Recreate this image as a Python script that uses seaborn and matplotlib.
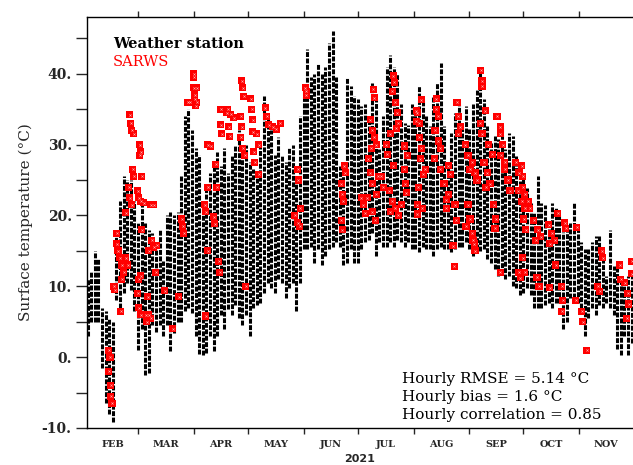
import numpy as np
import pandas as pd
import matplotlib
matplotlib.use("Agg")
import matplotlib.pyplot as plt
import seaborn as sns

# ==========================================
# Data
# ==========================================

# weather station: daily envelope, every 2nd day from 2021-02-01
station_high = [
    11, 12, 15, 14, 7, 6.5, 5.5, 5, 17, 22,
    25.5, 25, 25, 22, 19, 21.5, 19, 18, 17.5, 15.5,
    18, 13.5, 20, 20.5, 20, 20.5, 25.5, 34, 35, 32,
    29.5, 28.5, 22, 24, 26, 27.5, 29, 27, 29.5, 26,
    28.5, 30, 32, 30, 30, 27.5, 26.5, 25.5, 30, 36.8,
    34, 32, 28.5, 31, 28.5, 27.5, 29.5, 30, 25.5, 34,
    38.7, 43.5, 39.6, 40, 41.5, 40, 41, 44.3, 46, 39.6,
    27, 27, 39.6, 38.2, 36.8, 36.5, 35.4, 35.7, 34, 38.7,
    36.5, 29.4, 34, 41, 42.7, 41, 40, 35.7, 33, 32.8,
    35.7, 35, 38.2, 36.4, 34, 32.6, 36.8, 38.7, 41.5, 32.6,
    27.4, 31.6, 34.4, 35.7, 32.6, 35.4, 32.2, 35.7, 37.8, 40.6,
    36.5, 32.6, 30.2, 31.2, 30.8, 32.6, 29.4, 31.6, 31.2, 28.4,
    25.6, 26, 23.8, 21.8, 20.4, 25.6, 21.8, 21.5, 18.1, 21.8,
    21, 20, 17.6, 18, 19, 21.8, 18, 16.2, 15.3, 15.3,
    16.2, 17.1, 17.1, 14.3, 11.5, 18, 12.9, 13.3, 11.1, 10.1,
    11.5, 11.5,
]
station_low = [
    3, 5, 5, 5, -1.5, -6.5, -8, -9.2, 8, 7,
    9, 10.5, 9.5, 6.5, 1, 4, -2.5, -2.3, 4.5, 3.5,
    4.5, 3, 4.5, 0.8, 3.4, 5, 5, 6.5, 7, 6.2,
    3, 0.5, 0.3, 0.6, 3, 0.8, 3, 6, 4, 6.8,
    5.9, 7.3, 5.5, 4.5, 5.9, 3, 7, 7.3, 7.7, 9,
    10.5, 9.7, 9, 11, 10.5, 8.3, 9.7, 10.5, 6.5, 10.5,
    15.3, 15.3, 15.6, 13.3, 15.3, 13, 14.3, 15.3, 15.6, 16.2,
    15.6, 13, 13.3, 15.3, 13.3, 13.3, 15.3, 16.2, 16.6, 17.5,
    14.3, 16.2, 15.6, 15.6, 16.2, 15.6, 16.6, 16.2, 15.6, 16.2,
    15.3, 15.3, 14.8, 15.6, 15.3, 15.3, 14.3, 15.3, 15.6, 15.3,
    15.3, 14.8, 15.3, 15.6, 15.6, 16.2, 15.3, 14.3, 15.3, 15,
    15.3, 13.9, 13.3, 12.5, 11.5, 11.8, 11, 11.5, 10.1, 9.7,
    8.7, 9, 9.7, 8.7, 6.9, 6.9, 6.9, 7.3, 7.7, 6.9,
    7.7, 7.7, 4, 4.9, 8.3, 8.3, 7.7, 6.9, 3, 5.5,
    6.9, 5.9, 7.3, 6.9, 7.7, 6.9, 5.9, 1.2, 0.3, 3,
    0.3, 2,
]
station_dates = pd.date_range("2021-02-01", periods=len(station_high), freq="2D")

# SARWS: days since 2021-02-01 and temperature
sarws_day = [
    11.9, 11.9, 13.0, 13.0, 13.6, 12.5, 14.7, 15.2, 18.5, 16.3,
    16.3, 16.9, 18.0, 19.1, 20.2, 21.3, 22.4, 19.1, 21.3, 23.0,
    23.5, 24.6, 25.2, 25.7, 23.5, 24.1, 24.6, 25.7, 28.0, 28.5,
    29.6, 29.1, 29.6, 29.1, 30.2, 31.3, 35.2, 36.8, 30.2, 29.6,
    28.5, 28.0, 28.5, 29.6, 32.4, 32.9, 33.5, 35.2, 34.1, 35.7,
    36.8, 38.5, 34.1, 37.9, 42.9, 47.3, 50.7, 52.3, 52.9, 53.4,
    55.6, 56.8, 59.0, 59.0, 59.0, 59.5, 59.5, 60.1, 60.6, 60.6,
    66.7, 68.4, 65.1, 65.6, 66.7, 70.0, 70.6, 71.2, 71.7, 65.6,
    66.7, 72.8, 73.4, 73.9, 74.5, 78.4, 78.9, 77.8, 79.5, 81.1,
    73.9, 77.2, 85.0, 85.5, 85.0, 86.1, 87.2, 85.5, 86.1, 86.7,
    90.5, 91.1, 91.6, 91.6, 92.2, 92.7, 93.9, 95.0, 95.0, 98.8,
    99.4, 100.5, 102.7, 104.9, 107.1, 87.8, 116.6, 117.1, 114.9, 116.6,
    117.7, 118.2, 121.0, 121.5, 121.5,
    142.6, 143.1, 140.9, 141.5, 142.0, 140.9, 141.5, 152.0, 153.1, 154.2,
    158.6, 159.2, 157.0, 158.1, 159.2, 157.5, 160.3, 155.9, 157.0, 158.1,
    160.3, 161.4, 155.3, 163.1, 164.2, 158.1, 159.7, 169.7, 170.3, 169.2,
    170.8, 171.9, 172.5, 171.4, 168.1, 165.9, 166.4, 169.7, 167.5, 169.2,
    170.8, 172.5, 174.1, 168.1, 175.8, 177.5, 175.8, 176.4, 176.9, 182.5,
    182.5,
    183.0, 184.1, 185.2, 184.1, 185.2, 184.7, 187.4, 186.3, 183.6, 183.0,
    183.0, 185.8, 193.5, 193.5, 194.6, 192.9, 194.6, 195.7, 192.4, 195.7,
    200.2, 201.3, 197.9, 200.2, 199.1, 199.1, 204.0, 204.6, 203.5, 202.9,
    205.1, 205.7, 206.8, 205.7, 209.6, 211.2, 213.5, 212.3, 215.1, 216.2,
    211.2, 212.3, 213.5, 214.6, 210.1, 214.0, 215.1, 218.4, 219.0, 219.0,
    217.9, 219.0, 220.7, 222.4, 224.6, 220.1, 221.8, 223.4, 221.2, 225.6,
    226.7, 226.2, 227.3, 229.0, 229.0, 230.6, 229.5, 231.7, 231.7, 233.4,
    234.5, 237.8, 239.5, 239.0, 241.2, 242.8, 229.0, 239.5, 240.1,
    241.1, 241.7, 241.7, 242.8, 244.5, 245.6, 242.2, 243.3, 247.8, 250.0,
    251.7, 248.9, 241.7, 242.8, 249.5, 250.6, 256.1, 257.8, 259.4, 256.6,
    261.1, 264.9, 265.5, 271.6, 259.9, 256.6, 263.3, 263.8, 263.3, 271.0,
    274.4, 274.9, 277.1, 285.4, 286.0, 283.2, 284.3, 295.4, 296.0, 298.2,
    299.8, 300.4, 302.1, 302.1, 299.3,
]
sarws_temp = [
    1, -2, -4, -5.5, -6.5, 0, 10, 9.5, 6.5, 17.5,
    16, 15, 14, 13, 12, 14, 13, 11, 20.4, 24,
    22.5, 21.5, 26.5, 25.5, 34.2, 33, 32, 31.5, 23.5, 22.5,
    22, 30, 29, 28.5, 25.5, 21.8, 21.5, 21.5, 18, 11.5,
    11, 9, 7, 6, 6, 5, 8.5, 5.5, 6, 16.5,
    15.5, 15.8, 15, 12, 9.4, 4, 8.5, 19.5, 18.5, 17.5,
    36, 36, 40, 39.5, 38, 37, 36.5, 35.5, 38, 36,
    30, 29.8, 21.5, 20.5, 24, 19.8, 18.8, 27.2, 24, 5.8,
    15, 13.5, 12, 32.8, 31.5, 32.5, 31.2, 35, 34.3, 33.8,
    35, 34.5, 34, 32.5, 31, 29.5, 28.5, 39, 38, 36.8,
    36.5, 35, 33.5, 31.8, 29, 27.5, 31.5, 30, 25.8, 35.2,
    34, 32.8, 32.5, 32.2, 33, 10, 26.5, 25, 20, 19,
    18.5, 21, 38, 37.5, 37,
    27, 26, 24.5, 23, 22, 19.3, 18, 22.5, 21.5, 20.3,
    37.8, 36.6, 33.5, 32, 31, 29.5, 30, 28, 26, 24.5,
    23, 25.5, 22.5, 25.5, 24, 20.5, 19.3, 39.7, 38.8, 37.5,
    36, 34.5, 33, 32.3, 31.5, 30, 28.6, 27, 23.5, 22,
    21, 20, 21.5, 20.5, 29.8, 28.5, 26.5, 24.5, 23.2, 34.8,
    33.3,
    34.5, 33, 36.3, 31, 29.5, 28, 26.5, 25.8, 24, 21.5,
    20.2, 21, 36.5, 35, 34, 32, 30.5, 29.5, 28, 26.5,
    27, 25.8, 24.5, 23, 22.2, 21, 21.5, 19.3, 12.8, 15.7,
    36, 34, 32.5, 31.5, 30, 28.5, 27.5, 26.5, 26, 25,
    21.5, 19.5, 17.5, 16, 18.5, 16.5, 15, 40.5, 39, 38.2,
    33, 31.5, 34.8, 30, 28.6, 27.5, 26, 24.5, 24, 21.5,
    19.5, 18.2, 34, 32.5, 31.5, 30, 28.5, 27.5, 26.5, 25,
    23.5, 27.5, 26, 23.5, 22, 21, 12, 12, 11.2,
    27, 25.5, 24, 23, 22, 21, 19.5, 18, 19.3, 18,
    17, 16.5, 14, 12, 11.3, 10, 18.7, 17.5, 16.5, 16,
    20.3, 19, 18.2, 18.3, 13, 9.8, 10, 8, 6.5, 8,
    6.5, 5, 1, 15, 14, 10, 9.3, 13, 11, 10.5,
    9, 7.5, 13.5, 11.8, 5.5,
]

month_names = ["FEB", "MAR", "APR", "MAY", "JUN", "JUL", "AUG", "SEP", "OCT", "NOV"]
month_starts = pd.date_range("2021-02-01", "2021-12-01", freq="MS")

# ==========================================
# Frames
# ==========================================

start = pd.Timestamp("2021-02-01")

station = pd.DataFrame({
    "day": (station_dates - start).days,
    "high": station_high,
    "low": station_low
})

sarws = pd.DataFrame({
    "day": sarws_day,
    "temp": sarws_temp
})

edges = (month_starts - start).days.values
month_mid = (edges[:-1] + edges[1:]) / 2

# ==========================================
# Plot
# ==========================================

sns.set_style("ticks")
plt.rcParams["font.family"] = ["DejaVu Serif"]

fig = plt.figure(figsize=(6.33, 4.65), dpi=100)
ax = fig.add_axes([0.1374, 0.0796, 0.8626, 0.8838])

ax.vlines(
    station["day"],
    station["low"],
    station["high"],
    color="black",
    linewidth=2.2,
    linestyles=(0, (1.6, 0.5)),
    zorder=2
)

sns.scatterplot(
    data=sarws,
    x="day",
    y="temp",
    marker="s",
    s=26,
    color="red",
    edgecolor="none",
    ax=ax,
    zorder=3
)

sns.scatterplot(
    data=sarws,
    x="day",
    y="temp",
    marker="x",
    s=2.5,
    color="#ffb0b0",
    linewidth=0.4,
    ax=ax,
    zorder=4
)

ax.set_xlim(-0.3, 302.8)
ax.set_ylim(-10, 48)

# x axis: ticks at month starts, names at mid-month
ax.set_xticks(edges[1:-1])
ax.set_xticklabels([])
ax.set_xticks(month_mid, minor=True)
ax.set_xticklabels(month_names, minor=True, fontsize=7, fontweight="bold")
ax.tick_params(axis="x", which="major", direction="out", length=4, width=1,
               top=True, bottom=True)
ax.tick_params(axis="x", which="minor", length=0, pad=9)

ax.set_yticks([-10, 0, 10, 20, 30, 40])
ax.set_yticklabels(["-10.", "0.", "10.", "20.", "30.", "40."],
                   fontsize=10, fontweight="bold")
ax.set_yticks(np.arange(-5, 48, 10), minor=True)
ax.tick_params(axis="y", which="both", direction="out", length=8, width=1,
               left=True, right=False, pad=3)

for side in ["left", "bottom", "top"]:
    ax.spines[side].set_linewidth(1)
    ax.spines[side].set_color("black")
ax.spines["right"].set_visible(False)

ax.set_xlabel("2021", fontsize=8, fontweight="bold", family="DejaVu Sans",
              labelpad=3)
ax.set_ylabel("Surface temperature (\u00b0C)", fontsize=11, labelpad=6)

ax.text(0.047, 0.935, "Weather station", transform=ax.transAxes,
        fontsize=10.5, fontweight="bold", color="black", va="center")
ax.text(0.047, 0.89, "SARWS", transform=ax.transAxes,
        fontsize=10.5, color="red", va="center")

stats = [
    "Hourly RMSE = 5.14 \u00b0C",
    "Hourly bias = 1.6 \u00b0C",
    "Hourly correlation = 0.85",
]
for i, line in enumerate(stats):
    ax.text(0.577, 0.119 - i * 0.0435, line, transform=ax.transAxes,
            fontsize=11, color="black", va="center")

plt.savefig("out.png", dpi=100)
